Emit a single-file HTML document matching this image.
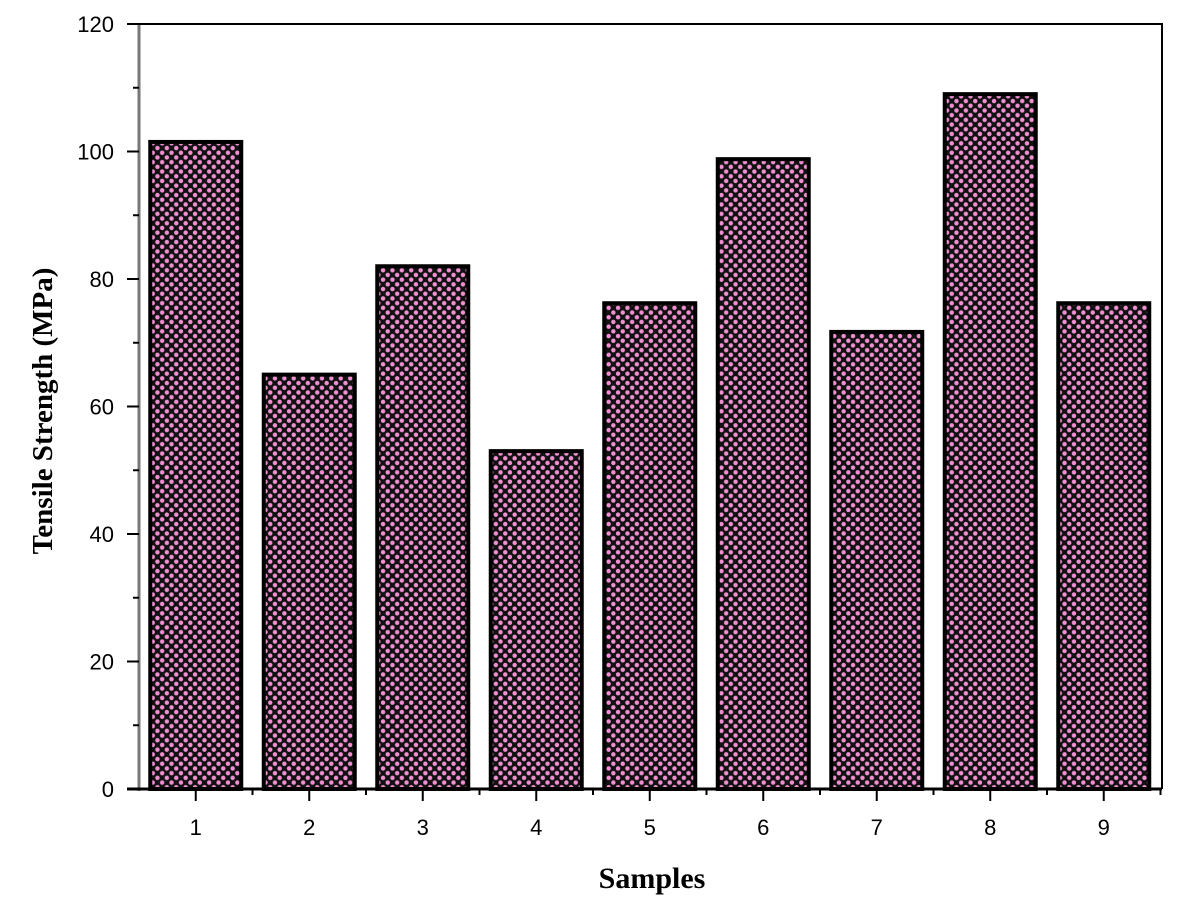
<!DOCTYPE html>
<html><head><meta charset="utf-8"><style>
html,body{margin:0;padding:0;background:#fff;width:1183px;height:909px;overflow:hidden}
text{font-family:"Liberation Sans",Arial,sans-serif}
</style></head><body>
<svg id="chart" width="1183" height="909" xmlns="http://www.w3.org/2000/svg">
<defs>
<pattern id="dots" width="9.4" height="9.4" patternUnits="userSpaceOnUse">
<rect width="9.4" height="9.4" fill="#111"/>
<circle cx="2.35" cy="2.35" r="2.2" fill="#f28fd2"/>
<circle cx="7.05" cy="7.05" r="2.2" fill="#f28fd2"/>
</pattern>
</defs>
<g id="plot"></g>
</svg>
<script>
const categories = ["1","2","3","4","5","6","7","8","9"];
const values = [101.5, 65, 82, 53, 76.2, 98.8, 71.7, 109, 76.2];
const yTicks = [0,20,40,60,80,100,120];
const yMinor = [10,30,50,70,90,110];
const NS="http://www.w3.org/2000/svg";
const L=139,R=1162,T=24,B=789;
const y=v=>B-(v/120)*(B-T);
const step=113.5;
const x=i=>L+(i+0.5)*step;
const g=document.getElementById('plot');
function mk(t,a){const e=document.createElementNS(NS,t);for(const k in a)e.setAttribute(k,a[k]);g.appendChild(e);return e;}
values.forEach((v,i)=>{
 const r=mk('rect',{x:x(i)-45.5,y:y(v),width:91,height:B-y(v),fill:'url(#dots)',stroke:'#000','stroke-width':4});
 
 
});
let a=mk('line',{x1:L,y1:T,x2:L,y2:B+2,stroke:'#777','stroke-width':3});


a=mk('line',{x1:R,y1:T,x2:R,y2:B,stroke:'#000','stroke-width':2});


a=mk('line',{x1:127,y1:T,x2:R+1,y2:T,stroke:'#000','stroke-width':2});


a=mk('line',{x1:127,y1:B,x2:R,y2:B,stroke:'#000','stroke-width':3});


yTicks.forEach(t=>{
 mk('line',{x1:127,y1:y(t),x2:L,y2:y(t),stroke:'#000','stroke-width':2});
 const tx=mk('text',{x:114,y:y(t)+8,'text-anchor':'end','font-size':22,fill:'#000'});
 tx.textContent=t;
 
 
});
yMinor.forEach(t=>mk('line',{x1:133,y1:y(t),x2:L,y2:y(t),stroke:'#000','stroke-width':2}));
categories.forEach((c,i)=>{
 mk('line',{x1:x(i),y1:B,x2:x(i),y2:B+12,stroke:'#000','stroke-width':2});
 mk('line',{x1:x(i)+step/2,y1:B,x2:x(i)+step/2,y2:B+6,stroke:'#000','stroke-width':2});
 const tx=mk('text',{x:x(i),y:B+46,'text-anchor':'middle','font-size':22,fill:'#000'});
 tx.textContent=c;
 
 
});
let t=mk('text',{x:652,y:888,'text-anchor':'middle','font-size':30,'font-weight':'bold',style:'font-family:"Liberation Serif",serif'});
t.textContent='Samples';


t=mk('text',{x:0,y:0,'text-anchor':'middle','font-size':29,'font-weight':'bold',transform:'translate(52,411) rotate(-90)',style:'font-family:"Liberation Serif",serif'});
t.textContent='Tensile Strength (MPa)';


</script>
</body></html>
